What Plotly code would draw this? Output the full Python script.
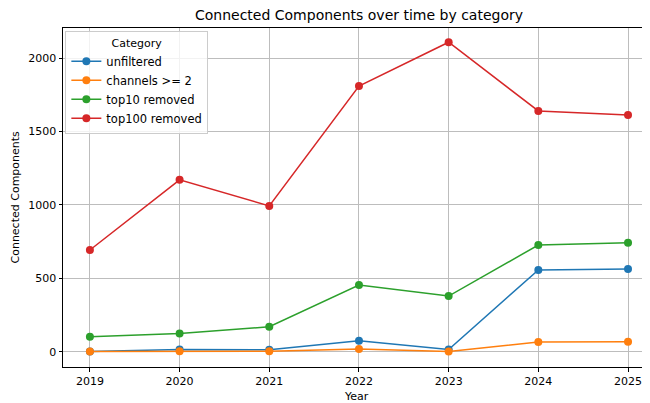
import plotly.graph_objects as go

years = [2019, 2020, 2021, 2022, 2023, 2024, 2025]
unfiltered = [2, 16, 14, 75, 15, 557, 564]
channels_ge_2 = [1, 3, 3, 18, 1, 66, 68]
top10_removed = [102, 125, 170, 454, 379, 727, 743]
top100_removed = [693, 1171, 993, 1810, 2108, 1640, 1613]

series = [
    ("unfiltered", unfiltered, "#1f77b4"),
    ("channels >= 2", channels_ge_2, "#ff7f0e"),
    ("top10 removed", top10_removed, "#2ca02c"),
    ("top100 removed", top100_removed, "#d62728"),
]

fig = go.Figure()
for name, vals, color in series:
    fig.add_trace(go.Scatter(
        x=years, y=vals, name=name, mode="lines+markers",
        line=dict(color=color, width=1.5),
        marker=dict(color=color, size=8),
    ))

# page body has an 8px margin, so the figure is sized/offset to compensate
W, H = 642, 395
OFF = 8
font = "DejaVu Sans, sans-serif"
fig.update_layout(
    width=W, height=H,
    margin=dict(l=55, r=0, t=20, b=36, autoexpand=False),
    paper_bgcolor="white", plot_bgcolor="white",
    font=dict(family=font, size=11, color="black"),
    title=dict(text="Connected Components over time by category",
               x=(359 - OFF) / W, xref="container", xanchor="center",
               y=1 - (15 - OFF) / H, yref="container", yanchor="middle",
               font=dict(size=14, family=font)),
    legend=dict(
        title=dict(text="Category", side="top center", font=dict(size=11)),
        x=0.004, y=0.99, xanchor="left", yanchor="top",
        bgcolor="rgba(255,255,255,0.8)", bordercolor="#cccccc", borderwidth=1,
        font=dict(size=11.5), itemwidth=30, tracegroupgap=0,
    ),
    xaxis=dict(
        range=[2018.7, 2025.245], automargin=False,
        tickmode="array", tickvals=years, ticktext=[str(y) for y in years],
        showgrid=True, gridcolor="#bdbdbd", gridwidth=1,
        showline=True, linecolor="black", linewidth=1, mirror=True,
        ticks="outside", ticklen=3.5, tickcolor="black",
        zeroline=False, tickfont=dict(size=11),
    ),
    yaxis=dict(
        range=[-104, 2205], automargin=False,
        tickmode="array", tickvals=[0, 500, 1000, 1500, 2000],
        showgrid=True, gridcolor="#bdbdbd", gridwidth=1,
        showline=True, linecolor="black", linewidth=1, mirror=False,
        ticks="outside", ticklen=3.5, tickcolor="black",
        zeroline=False, tickfont=dict(size=11),
    ),
    annotations=[
        dict(text="Year", xref="paper", x=(357 - OFF - 55) / (W - 55),
             yref="paper", y=-(397 - 367) / (395 - 56), xanchor="center",
             yanchor="middle", showarrow=False, font=dict(size=11)),
        dict(text="Connected Components", xref="paper",
             x=-(63 - 15) / (W - 55), yref="paper", y=0.5, textangle=-90,
             xanchor="center", yanchor="middle", showarrow=False,
             font=dict(size=11)),
    ],
)

fig.write_html("out.html")
